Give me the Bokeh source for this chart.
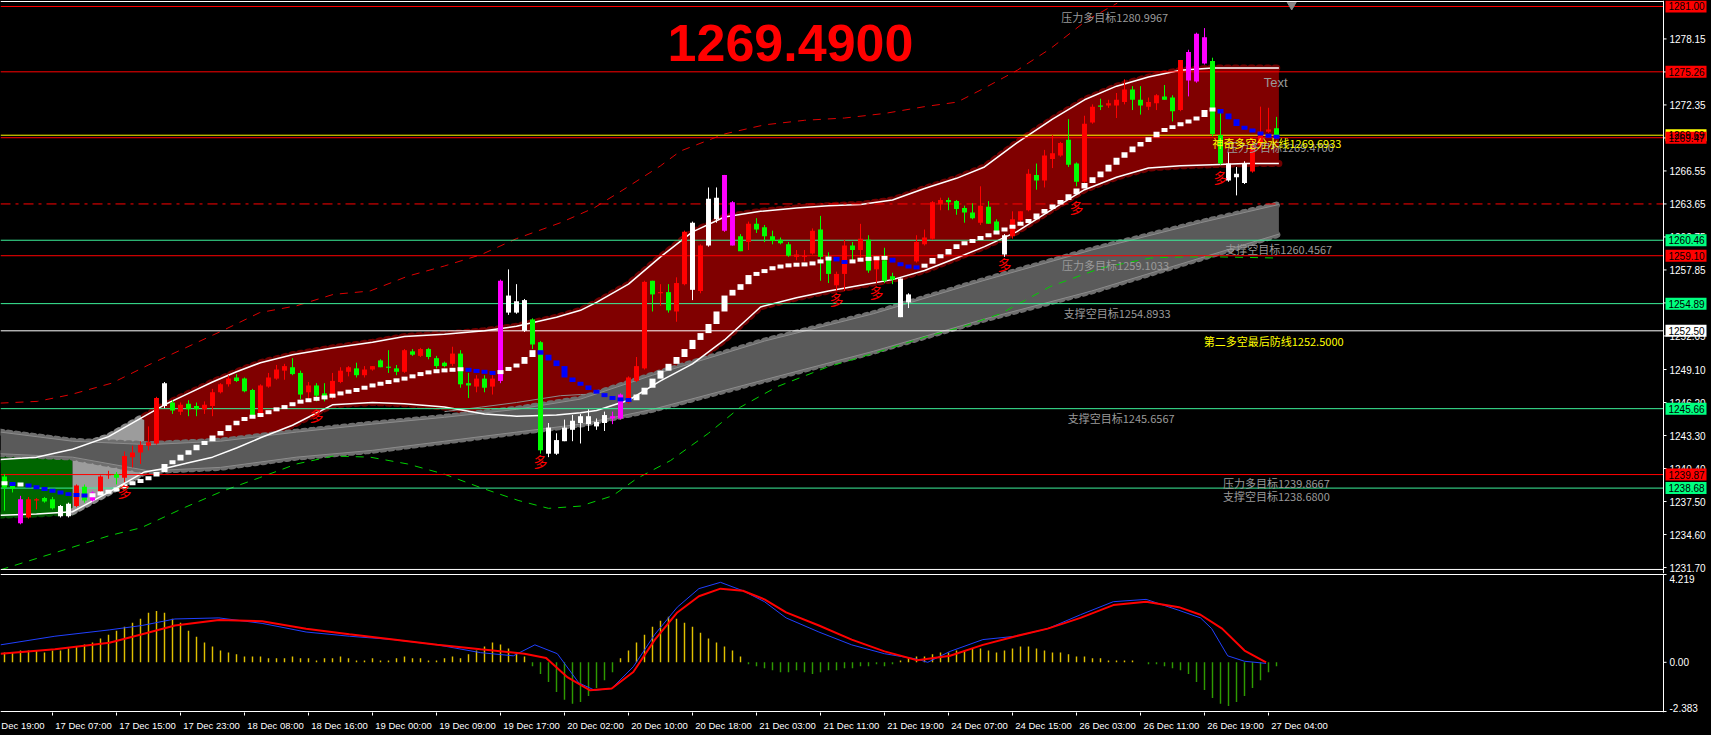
from bokeh.plotting import figure
from bokeh.models import Range1d, FixedTicker
from bokeh.layouts import column
from bokeh.embed import file_html
from bokeh.resources import INLINE
from bokeh.core.properties import value

# ---------------- data ----------------
FIRST_BAR = 2
opens = [1239.7, 1238.9, 1235.6, 1236.1, 1237.6, 1237.8, 1237.7, 1237.1, 1237.3, 1237.1,
         1238.8, 1237.6, 1238.4, 1239.8, 1239.9, 1239.6, 1241.4, 1241.8, 1242.4, 1242.6,
         1245.9, 1246.2, 1245.4, 1246.1, 1245.9, 1245.6, 1245.9, 1247.1, 1247.8, 1248.4,
         1248.3, 1247.3, 1245.0, 1247.6, 1248.3, 1249.0, 1249.3, 1248.8, 1247.1, 1247.7,
         1247.0, 1246.7, 1248.0, 1248.9, 1249.2, 1248.6, 1249.1, 1249.9, 1249.35, 1249.2,
         1248.9, 1250.7, 1250.3, 1250.9, 1250.1, 1249.7, 1249.6, 1250.5, 1247.9, 1247.6,
         1248.3, 1247.6, 1248.1, 1255.6, 1255.1, 1255.2, 1253.5, 1251.5, 1244.0, 1242.9,
         1242.8, 1243.8, 1244.4, 1244.3, 1244.5, 1244.4, 1244.8, 1244.8, 1246.2, 1248.1,
         1249.2, 1256.9, 1255.8, 1255.9, 1254.2, 1256.6, 1262.0, 1256.0, 1260.0, 1264.2,
         1261.3, 1263.8, 1260.8, 1260.3, 1261.9, 1261.6, 1260.8, 1260.5, 1260.1, 1259.0,
         1259.0, 1259.3, 1261.4, 1259.0, 1256.5, 1257.5, 1260.0, 1259.6, 1260.5, 1257.9,
         1258.7, 1257.3, 1257.1, 1255.0, 1258.6, 1260.1, 1260.6, 1263.6, 1264.0, 1263.9,
         1263.3, 1262.9, 1262.0, 1263.4, 1262.1, 1260.9, 1260.8, 1262.2, 1263.1, 1266.2,
         1265.7, 1267.6, 1267.9, 1269.3, 1267.2, 1265.6, 1270.8, 1272.3, 1272.3, 1272.3,
         1272.6, 1273.7, 1272.8, 1272.2, 1272.5, 1273.1, 1273.0, 1271.9, 1274.5, 1274.4,
         1278.3, 1276.2, 1269.7, 1267.2, 1266.3, 1267.2, 1266.5, 1268.8, 1270.0, 1270.3]
highs = [1239.9, 1239.1, 1238.0, 1237.9, 1237.8, 1237.9, 1237.9, 1237.2, 1237.4, 1239.0,
         1239.0, 1238.4, 1239.8, 1240.2, 1240.1, 1241.9, 1242.4, 1242.8, 1244.1, 1246.7,
         1248.0, 1246.4, 1246.2, 1246.4, 1246.2, 1246.3, 1247.4, 1247.9, 1248.6, 1248.7,
         1248.4, 1247.4, 1247.8, 1248.8, 1249.5, 1249.6, 1250.1, 1249.0, 1248.0, 1247.9,
         1247.9, 1248.8, 1249.3, 1249.4, 1249.7, 1249.4, 1249.4, 1250.0, 1250.8, 1249.5,
         1250.9, 1250.9, 1251.0, 1251.0, 1250.3, 1249.8, 1251.1, 1250.8, 1248.8, 1248.6,
         1248.6, 1248.6, 1257.0, 1257.9, 1256.6, 1255.3, 1253.6, 1251.6, 1244.4, 1243.5,
         1244.7, 1245.1, 1245.2, 1245.6, 1244.8, 1245.4, 1245.4, 1247.0, 1248.5, 1250.2,
         1256.9, 1256.9, 1256.6, 1256.6, 1257.2, 1261.3, 1262.1, 1260.1, 1265.1, 1265.1,
         1266.2, 1263.9, 1261.0, 1262.1, 1262.4, 1261.8, 1261.3, 1260.7, 1260.3, 1259.6,
         1259.6, 1261.5, 1262.6, 1259.4, 1257.7, 1260.5, 1260.3, 1261.9, 1260.9, 1259.1,
         1259.8, 1257.6, 1257.1, 1255.8, 1260.9, 1261.4, 1263.9, 1264.2, 1264.2, 1264.0,
         1263.5, 1263.7, 1265.2, 1263.9, 1262.3, 1261.0, 1263.0, 1263.0, 1266.7, 1267.2,
         1268.4, 1269.7, 1269.1, 1271.1, 1267.3, 1271.4, 1272.4, 1272.9, 1272.8, 1273.4,
         1274.6, 1274.0, 1274.0, 1273.0, 1273.3, 1274.1, 1273.2, 1276.3, 1277.2, 1278.7,
         1279.1, 1276.5, 1271.7, 1268.2, 1266.9, 1267.4, 1269.5, 1272.2, 1272.1, 1271.3]
lows = [1236.7, 1238.3, 1235.5, 1236.0, 1236.8, 1237.4, 1236.8, 1236.1, 1236.1, 1237.0,
        1237.4, 1237.5, 1238.3, 1239.5, 1239.0, 1239.2, 1240.5, 1240.8, 1242.0, 1242.5,
        1245.7, 1245.2, 1245.1, 1245.0, 1245.0, 1245.2, 1245.0, 1247.0, 1247.6, 1248.0,
        1247.1, 1245.0, 1244.9, 1247.5, 1248.2, 1248.2, 1248.6, 1246.5, 1246.5, 1246.3,
        1246.3, 1246.5, 1247.9, 1248.5, 1248.4, 1248.4, 1249.0, 1249.3, 1248.8, 1248.6,
        1248.8, 1250.3, 1250.2, 1250.0, 1249.2, 1249.3, 1249.4, 1247.5, 1246.6, 1247.1,
        1247.1, 1246.9, 1247.9, 1253.9, 1254.0, 1252.4, 1250.9, 1241.7, 1241.4, 1241.6,
        1242.8, 1242.8, 1242.6, 1243.7, 1243.8, 1243.7, 1244.3, 1244.7, 1246.1, 1248.0,
        1249.1, 1254.2, 1254.7, 1254.1, 1253.3, 1256.5, 1255.2, 1255.8, 1259.9, 1262.0,
        1261.2, 1260.0, 1259.5, 1259.6, 1261.1, 1260.3, 1260.1, 1260.1, 1259.0, 1258.7,
        1258.6, 1259.2, 1256.9, 1256.7, 1256.0, 1256.0, 1258.7, 1258.7, 1257.6, 1256.7,
        1256.7, 1256.6, 1253.7, 1254.5, 1258.5, 1260.0, 1260.5, 1263.1, 1263.1, 1262.7,
        1262.0, 1262.3, 1261.8, 1261.9, 1261.0, 1259.0, 1260.6, 1262.0, 1263.0, 1264.9,
        1265.1, 1266.8, 1267.8, 1266.9, 1265.2, 1265.5, 1270.7, 1271.9, 1272.1, 1271.2,
        1272.4, 1271.9, 1271.5, 1271.9, 1271.9, 1272.8, 1270.9, 1271.8, 1273.1, 1274.3,
        1275.9, 1269.6, 1267.1, 1265.6, 1264.4, 1265.4, 1266.4, 1268.6, 1269.9, 1269.4]
closes = [1238.7, 1238.6, 1237.7, 1237.7, 1237.7, 1237.5, 1236.9, 1236.2, 1236.2, 1238.9,
          1237.6, 1238.3, 1239.7, 1239.9, 1239.6, 1241.5, 1241.8, 1242.5, 1242.7, 1246.6,
          1247.9, 1245.5, 1246.0, 1245.6, 1245.6, 1246.0, 1247.1, 1247.8, 1248.3, 1248.1,
          1247.2, 1245.0, 1247.7, 1248.4, 1249.1, 1249.4, 1248.7, 1246.9, 1247.7, 1246.8,
          1246.5, 1248.1, 1249.0, 1249.3, 1248.6, 1249.1, 1249.4, 1249.3, 1249.25, 1248.9,
          1250.8, 1250.4, 1250.9, 1250.2, 1249.4, 1249.4, 1250.5, 1247.8, 1247.7, 1248.3,
          1247.5, 1248.3, 1256.9, 1254.1, 1254.1, 1252.5, 1251.3, 1242.0, 1241.7, 1241.7,
          1244.0, 1244.6, 1245.0, 1245.0, 1244.1, 1245.1, 1245.0, 1246.9, 1248.4, 1249.4,
          1256.8, 1255.7, 1255.9, 1254.3, 1256.7, 1261.2, 1256.1, 1260.0, 1264.1, 1262.3,
          1266.2, 1260.0, 1259.5, 1261.9, 1261.4, 1260.8, 1260.4, 1260.2, 1259.1, 1259.2,
          1259.1, 1261.3, 1259.0, 1257.5, 1257.5, 1260.0, 1259.6, 1260.6, 1257.8, 1258.8,
          1256.9, 1257.0, 1253.7, 1255.7, 1260.3, 1260.7, 1263.8, 1264.0, 1263.8, 1263.2,
          1262.9, 1262.4, 1263.5, 1261.9, 1261.0, 1259.2, 1262.3, 1263.0, 1266.3, 1265.7,
          1267.9, 1268.1, 1269.0, 1267.1, 1265.6, 1270.7, 1272.2, 1272.2, 1272.5, 1272.8,
          1273.7, 1272.8, 1272.3, 1272.6, 1273.2, 1272.8, 1271.8, 1276.3, 1277.0, 1278.6,
          1276.0, 1269.8, 1267.2, 1265.7, 1266.0, 1265.5, 1268.7, 1270.0, 1270.2, 1269.5]
white_bars = [9, 10, 22, 65, 66, 67, 70, 71, 72, 73, 74, 75, 76, 77, 88, 90, 91, 114, 115, 127, 155, 156, 157]
magenta_bars = [4, 13, 64, 78, 79, 92, 93, 150, 151, 152]

ma_trend = [1239.1, 1239.0, 1239.0, 1238.8, 1238.7, 1238.5, 1238.4, 1238.2, 1238.1, 1238.05, 1238.0,
            1238.1, 1238.3, 1238.4, 1238.7, 1239.0, 1239.2, 1239.4, 1239.7, 1240.1, 1240.8,
            1241.1, 1241.6, 1242.0, 1242.5, 1242.8, 1243.3, 1243.7, 1244.2, 1244.6, 1244.9,
            1245.0, 1245.2, 1245.5, 1245.7, 1245.9, 1246.2, 1246.35, 1246.45, 1246.6, 1246.7,
            1246.9, 1247.1, 1247.2, 1247.4, 1247.6, 1247.8, 1247.9, 1248.1, 1248.2, 1248.4,
            1248.6, 1248.8, 1248.9, 1249.0, 1249.05, 1249.1, 1249.15, 1249.0, 1248.95, 1248.85,
            1248.75, 1249.0, 1249.3, 1249.6, 1250.2, 1250.8, 1250.4, 1249.9, 1249.4, 1248.4,
            1248.0, 1247.7, 1247.3, 1247.0, 1246.7, 1246.5, 1246.45, 1246.4, 1246.9, 1247.5,
            1248.3, 1249.0, 1249.6, 1250.2, 1250.9, 1251.7, 1252.3, 1253.1, 1254.2, 1255.6,
            1256.1, 1256.6, 1257.4, 1257.6, 1257.9, 1258.1, 1258.2, 1258.3, 1258.32, 1258.35,
            1258.5, 1258.7, 1259.0, 1258.6, 1258.5, 1258.7, 1258.8, 1258.85, 1258.9, 1258.92,
            1258.5, 1258.2, 1258.1, 1258.05, 1258.4, 1258.9, 1259.2, 1259.7, 1260.1, 1260.3,
            1260.5, 1260.8, 1261.0, 1261.3, 1261.5, 1261.8, 1262.0, 1262.3, 1262.8, 1263.2,
            1263.6, 1264.0, 1264.5, 1265.0, 1265.5, 1266.0, 1266.5, 1267.1, 1267.7, 1268.2,
            1268.7, 1269.1, 1269.5, 1270.0, 1270.3, 1270.5, 1270.8, 1271.0, 1271.3, 1271.9,
            1272.0, 1271.6, 1271.1, 1270.5, 1270.2, 1270.0, 1269.7, 1269.6, 1269.5]

signal_bars = [17, 41, 69, 106, 111, 127, 136, 154]
signal_prices = [1238.4, 1245.1, 1241.1, 1255.3, 1255.9, 1258.4, 1263.4, 1266.0]

band_x = [1.5, 6, 10.5, 15, 19.5, 22, 25, 28, 31, 34, 38, 43, 48, 52, 57, 62, 66, 71, 74, 76,
          80, 84, 88, 92, 96.5, 101, 105, 109, 113, 117, 121, 124.5, 128.5, 133, 137, 141, 145,
          149, 153, 157, 161.3]
band_upper = [1241.2, 1241.4, 1242.1, 1243.2, 1245.0, 1246.0, 1247.0, 1248.0, 1248.9, 1249.7,
              1250.4, 1251.0, 1251.5, 1252.0, 1252.2, 1252.5, 1252.9, 1253.7, 1254.3, 1255.0,
              1256.6, 1259.0, 1261.2, 1262.5, 1263.0, 1263.3, 1263.5, 1263.6, 1264.0, 1265.0,
              1265.9, 1266.9, 1269.0, 1271.1, 1272.8, 1274.0, 1274.8, 1275.4, 1275.6, 1275.6,
              1275.6]
band_lower = [1236.3, 1236.4, 1236.6, 1238.3, 1240.1, 1240.4, 1240.9, 1241.4, 1242.2, 1243.1,
              1244.2, 1246.0, 1246.2, 1246.1, 1245.8, 1245.2, 1245.0, 1245.1, 1245.3, 1245.5,
              1246.4, 1248.1, 1249.6, 1251.7, 1254.6, 1255.4, 1256.0, 1256.5, 1257.0, 1257.8,
              1258.9, 1259.9, 1261.2, 1263.2, 1264.9, 1266.0, 1266.8, 1267.0, 1267.1, 1267.2,
              1267.2]
band_breaks = [1.5, 10.5, 19.5, 161.3]

grey_x = [1.5, 10.5, 20, 29, 38.5, 48, 57, 66, 74, 83, 97, 110.6, 124.3, 137.9, 151.5, 161.3]
grey_upper = [1243.6, 1242.8, 1242.5, 1242.8, 1243.6, 1244.3, 1244.9, 1245.6, 1246.5, 1248.6,
              1251.6, 1254.0, 1256.9, 1259.6, 1262.0, 1263.6]
grey_lower = [1241.7, 1241.4, 1240.2, 1240.5, 1241.4, 1242.0, 1242.8, 1243.6, 1244.3, 1245.6,
              1248.2, 1250.7, 1253.5, 1256.0, 1258.9, 1261.0]
grey_mid_x = [57, 61.6, 66, 71.5, 74, 79, 82]
grey_mid = [1245.4, 1245.8, 1246.2, 1246.8, 1246.9, 1247.0, 1247.6]

env_hi_x = [1.5, 6.1, 10.3, 15.4, 20.0, 24.6, 29.2, 33.9, 38.5, 43.1, 47.7, 52.4, 57.0, 61.6,
            66, 71.5, 75.7, 79.8, 84.0, 86.5, 92, 97, 102, 107, 112, 117, 121.1, 124.4, 128.6,
            132.75, 137.3, 141.1]
env_hi = [1246.15, 1246.3, 1246.9, 1247.9, 1249.5, 1251.0, 1252.5, 1254.1, 1254.7, 1255.7,
          1256.0, 1257.3, 1258.2, 1259.2, 1260.6, 1262.0, 1263.3, 1265.1, 1267.0, 1268.3,
          1269.8, 1270.6, 1271.0, 1271.2, 1271.6, 1272.2, 1272.6, 1273.8, 1275.4, 1277.3,
          1279.8, 1281.3]
env_lo_x = [1.5, 8.3, 15.1, 19.1, 24.6, 29.2, 33.9, 38.5, 43.1, 47.7, 52.4, 57.0, 61.6, 66.2,
            70, 74, 78, 81, 85.25, 90, 94, 98.6, 104.8, 111, 117.3, 121.5, 126.5, 132.75, 139,
            145.25, 149.4, 153.6, 161]
env_lo = [1231.5, 1233.0, 1234.5, 1235.2, 1237.0, 1238.4, 1239.6, 1240.8, 1241.5, 1241.4,
          1240.8, 1239.9, 1238.7, 1237.6, 1236.9, 1237.1, 1238.0, 1239.5, 1241.1, 1243.5,
          1245.8, 1247.6, 1249.3, 1250.6, 1252.0, 1252.8, 1254.0, 1256.4, 1258.0, 1258.9,
          1259.0, 1259.0, 1258.9]

resist_levels = [1281.00, 1275.26, 1269.47, 1259.10, 1239.87]
support_levels = [1260.46, 1254.89, 1245.66, 1238.68]
pivot_level = 1269.69
final_level = 1252.50
mid_level = 1263.65

price_ticks = [1231.70, 1234.60, 1237.50, 1240.40, 1243.30, 1246.20, 1249.10, 1252.05, 1254.95,
               1257.85, 1260.75, 1263.65, 1266.55, 1269.45, 1272.35, 1275.25, 1278.15]
time_labels = ["16 Dec 19:00", "17 Dec 07:00", "17 Dec 15:00", "17 Dec 23:00", "18 Dec 08:00",
               "18 Dec 16:00", "19 Dec 00:00", "19 Dec 09:00", "19 Dec 17:00", "20 Dec 02:00",
               "20 Dec 10:00", "20 Dec 18:00", "21 Dec 03:00", "21 Dec 11:00", "21 Dec 19:00",
               "24 Dec 07:00", "24 Dec 15:00", "26 Dec 03:00", "26 Dec 11:00", "26 Dec 19:00",
               "27 Dec 04:00"]
BARS_PER_LABEL = 8

macd_x = [1.5, 8.3, 15.1, 19.2, 23.3, 28.8, 34.2, 39.7, 45.1, 50.6, 56.1, 61.5, 65.6, 68.3, 71.1,
          73.8, 75.8, 77.9, 80.6, 83.3, 86.1, 88.8, 91.5, 94.3, 97, 99.7, 103.8, 107.9, 112,
          116.1, 117.4, 120.2, 124.3, 128.4, 132.4, 136.5, 140.6, 144.7, 148.8, 151.5, 152.9,
          154.9, 157, 159.7]
macd_main = [0.83, 1.24, 1.54, 1.75, 2.06, 2.11, 1.85, 1.44, 1.24, 1.08, 0.83, 0.46, 0.31, 0.83,
             0.41, -0.98, -1.33, -1.24, -0.21, 1.33, 2.62, 3.50, 3.80, 3.40, 2.88, 2.11, 1.44,
             0.83, 0.41, 0.15, 0.0, 0.52, 1.08, 1.24, 1.60, 2.26, 2.88, 2.99, 2.47, 2.11, 1.60,
             0.31, 0.05, -0.05]
sig_x = [1.5, 8.3, 15.1, 19.2, 23.3, 28.8, 34.2, 39.7, 45.1, 50.6, 56.1, 61.5, 67, 69.7, 72.4,
         75.2, 77.9, 80.6, 83.3, 86.1, 88.8, 91.5, 94.3, 97, 99.7, 103.8, 107.9, 112, 116.1,
         120.2, 124.3, 128.4, 132.4, 136.5, 140.6, 144.7, 148.8, 151.5, 154.2, 157, 159.7]
macd_signal = [0.41, 0.62, 0.93, 1.33, 1.75, 2.01, 1.95, 1.60, 1.33, 1.08, 0.83, 0.62, 0.41, 0.21,
               -0.72, -1.33, -1.24, -0.46, 1.08, 2.37, 3.14, 3.50, 3.40, 2.99, 2.37, 1.75, 1.08,
               0.52, 0.10, 0.31, 0.83, 1.24, 1.60, 2.11, 2.72, 2.88, 2.62, 2.26, 1.60, 0.56, 0.0]
osma = [0.47, 0.47, 0.56, 0.56, 0.56, 0.47, 0.56, 0.56, 0.66, 0.75,
        0.85, 0.94, 1.13, 1.31, 1.50, 1.69, 1.88, 2.07, 2.35, 2.44,
        2.35, 2.07, 1.88, 1.50, 1.22, 0.94, 0.75, 0.56, 0.47, 0.38,
        0.28, 0.28, 0.28, 0.19, 0.19, 0.19, 0.28, 0.19, 0.19, 0.09,
        0.19, 0.19, 0.28, 0.19, 0.09, 0.09, 0.19, 0.09, 0.09, 0.19,
        0.28, 0.19, 0.19, 0.09, 0.09, 0.19, 0.28, 0.19, 0.38, 0.56,
        0.75, 0.94, 0.85, 0.66, 0.47, 0.28, -0.19, -0.56, -0.94, -1.41,
        -1.78, -1.97, -1.88, -1.60, -1.22, -0.85, -0.47, 0.19, 0.56, 0.94,
        1.31, 1.69, 1.97, 2.16, 2.07, 1.88, 1.69, 1.41, 1.13, 0.94,
        0.75, 0.56, 0.28, -0.09, -0.19, -0.28, -0.38, -0.47, -0.47, -0.38,
        -0.47, -0.56, -0.47, -0.38, -0.38, -0.28, -0.28, -0.19, -0.19, -0.09,
        -0.19, -0.09, 0.09, 0.19, 0.28, 0.28, 0.38, 0.47, 0.47, 0.56,
        0.56, 0.66, 0.66, 0.56, 0.47, 0.56, 0.66, 0.75, 0.75, 0.66,
        0.56, 0.47, 0.47, 0.38, 0.28, 0.28, 0.19, 0.19, 0.09, 0.09,
        0.09, 0.09, 0.0, -0.09, -0.09, -0.19, -0.28, -0.38, -0.56, -0.94,
        -1.31, -1.69, -1.97, -2.07, -1.88, -1.60, -1.22, -0.85, -0.47, -0.19]
macd_max = 4.219
macd_min = -2.383

notes_grey = ["压力多目标1280.9967", "压力多目标1269.4700", "支撑空目标1260.4567", "压力多目标1259.1033",
              "支撑空目标1254.8933", "支撑空目标1245.6567", "压力多目标1239.8667", "支撑空目标1238.6800"]
notes_grey_x = [134.1, 154.8, 154.6, 134.2, 134.4, 134.9, 154.3, 154.3]
notes_grey_y = [1280.82, 1269.40, 1260.40, 1259.00, 1254.73, 1245.50, 1239.79, 1238.65]
notes_yellow = ["神奇多空分水线1269.6933", "第二多空最后防线1252.5000"]
notes_yellow_x = [153.0, 151.9]
notes_yellow_y = [1269.70, 1252.35]
last_price_text = "1269.4900"

# ---------------- geometry ----------------
W = 1711
AXIS_PX = 1663          # right price-scale line
BAR_PX = 8
PX_PER_PRICE = 11.38
MAIN_H = 573
x_start = 1.5
x_end = x_start + W / BAR_PX
AX = x_start + AXIS_PX / BAR_PX
y_top = 1281.527
y_bot = y_top - MAIN_H / PX_PER_PRICE

bars = list(range(FIRST_BAR, FIRST_BAR + len(opens)))


def scale_line(fig, lo, hi):
    fig.segment(x0=[AX], y0=[lo], x1=[AX], y1=[hi], line_color="white", line_width=1)


def scale_labels(fig, ticks, texts, baseline):
    fig.segment(x0=[AX] * len(ticks), y0=ticks, x1=[AX + 3 / BAR_PX] * len(ticks), y1=ticks,
                line_color="white", line_width=1)
    fig.text(x=[AX + 6 / BAR_PX] * len(ticks), y=ticks, text=texts, text_color="white",
             text_font=value("Liberation Sans"), text_font_size="10px", text_align="left",
             text_baseline=baseline)


p = figure(width=W, height=MAIN_H, x_range=Range1d(x_start, x_end),
           y_range=Range1d(y_bot, y_top), output_backend="svg", toolbar_location=None,
           x_axis_location=None, y_axis_location=None,
           min_border_left=0, min_border_right=0, min_border_top=0, min_border_bottom=0,
           background_fill_color="black", border_fill_color="black", outline_line_color=None)
p.grid.visible = False

# ----- main channel (trend band) -----
seg_fill = ["#006600", "#9c9c9c", "#800000"]
seg_bump = ["#005200", "#8a8a8a", "#700000"]
for k in range(3):
    lo_b, hi_b = band_breaks[k], band_breaks[k + 1]
    ids = [j for j, xv in enumerate(band_x) if lo_b <= xv <= hi_b]
    xs = [band_x[j] for j in ids]
    ups = [band_upper[j] for j in ids]
    los = [band_lower[j] for j in ids]
    p.line(xs, ups, line_color=seg_bump[k], line_width=7, line_dash="2 6", line_cap="round")
    p.line(xs, los, line_color=seg_bump[k], line_width=7, line_dash="2 6", line_cap="round")
    p.varea(x=xs, y1=los, y2=ups, fill_color=seg_fill[k])
p.line(grey_mid_x, grey_mid, line_color="#8c8c8c", line_width=1)

# ----- grey channel -----
p.line(grey_x, grey_upper, line_color="#6e6e6e", line_width=7, line_dash="2 6", line_cap="round")
p.line(grey_x, grey_lower, line_color="#6e6e6e", line_width=7, line_dash="2 6", line_cap="round")
p.varea(x=grey_x, y1=grey_lower, y2=grey_upper, fill_color="#5a5a5a")
p.line(grey_x, grey_upper, line_color="#8c8c8c", line_width=1)
p.line(grey_x, grey_lower, line_color="#8c8c8c", line_width=1)

# white edges of trend band
p.line(band_x, band_upper, line_color="white", line_width=1.5)
p.line(band_x, band_lower, line_color="white", line_width=1.5)

# envelopes
p.line(env_hi_x, env_hi, line_color="#dd0000", line_width=1, line_dash="8 7")
p.line(env_lo_x, env_lo, line_color="#00d000", line_width=1, line_dash="8 7")


# horizontal levels (stop at the price scale)
def hline(level, color, dash="solid"):
    p.segment(x0=[x_start], y0=[level], x1=[AX], y1=[level], line_color=color, line_width=1,
              line_dash=dash)


for lv in resist_levels:
    hline(lv, "#ff0000")
for lv in support_levels:
    hline(lv, "#3cf09a")
hline(pivot_level, "#ffff00")
hline(final_level, "#ffffff")
hline(mid_level, "#ff0000", "10 5 3 5")

# ----- candles -----
cols = []
for k, b in enumerate(bars):
    if b in white_bars:
        cols.append("#ffffff")
    elif b in magenta_bars:
        cols.append("#ff00ff")
    elif closes[k] >= opens[k]:
        cols.append("#ff0000")
    else:
        cols.append("#00ff00")
btop = [max(o, c) for o, c in zip(opens, closes)]
bbot = [min(o, c) for o, c in zip(opens, closes)]
btop = [t if t - b >= 0.1 else b + 0.1 for t, b in zip(btop, bbot)]
p.segment(x0=bars, y0=lows, x1=bars, y1=highs, line_color=cols, line_width=1)
p.vbar(x=bars, top=btop, bottom=bbot, width=0.62, fill_color=cols, line_color=None)

# ----- trend staircase -----
prev = [ma_trend[0]] + ma_trend[:-1]
st_top, st_bot, st_col = [], [], []
for a, c in zip(prev, ma_trend):
    lo, hi = min(a, c), max(a, c)
    if hi - lo < 0.35:
        mid = (hi + lo) / 2
        lo, hi = mid - 0.175, mid + 0.175
    st_top.append(hi)
    st_bot.append(lo)
    st_col.append("#ffffff" if c >= a else "#0000ff")
p.vbar(x=bars, top=st_top, bottom=st_bot, width=0.75, fill_color=st_col, line_color=None)

# signals
p.text(x=signal_bars, y=signal_prices, text=["多"] * len(signal_bars), text_color="#ff0000",
       text_font=value("Noto Sans CJK SC"), text_font_size="14px", text_align="center",
       text_baseline="middle")

# notes
p.text(x=notes_grey_x, y=notes_grey_y, text=notes_grey, text_color="#9a9a9a",
       text_font=value("Noto Sans CJK SC"), text_font_size="11px", text_align="left",
       text_baseline="top")
p.text(x=notes_yellow_x, y=notes_yellow_y, text=notes_yellow, text_color="#ffff00",
       text_font=value("Noto Sans CJK SC"), text_font_size="11px", text_align="left",
       text_baseline="top")
p.text(x=[159.4], y=[1275.0], text=["Text"], text_color="#9a9a9a",
       text_font=value("Liberation Sans"), text_font_size="13px", text_align="left",
       text_baseline="top")
p.text(x=[100.25], y=[1277.8], text=[last_price_text], text_color="#ff0000",
       text_font=value("Liberation Sans"), text_font_style="bold", text_font_size="52px",
       text_align="center", text_baseline="middle")
p.scatter(x=[162.9], y=[1281.15], marker="inverted_triangle", size=9, color="#8a8a8a")

# frame lines
p.segment(x0=[x_start, x_start], y0=[y_top - 1 / PX_PER_PRICE, 1231.53],
          x1=[AX, AX], y1=[y_top - 1 / PX_PER_PRICE, 1231.53], line_color="white", line_width=1)

# price scale with level boxes
scale_line(p, y_bot, y_top)
scale_labels(p, price_ticks, [f"{t:.2f}" for t in price_ticks], "middle")
box_levels = [lv for lv in resist_levels if lv != 1269.47] + [pivot_level, 1269.47] \
    + support_levels + [final_level]
box_colors = ["#ff0000"] * 4 + ["#ffff00", "#ff0000"] + ["#00ff80"] * 4 + ["#ffffff"]
box_cx = AX + (2 + 20.5) / BAR_PX
p.rect(x=[box_cx] * len(box_levels), y=box_levels, width=41, height=12, width_units="screen",
       height_units="screen", fill_color=box_colors, line_color=None)
p.text(x=[AX + 5 / BAR_PX] * len(box_levels), y=box_levels, text=[f"{lv:.2f}" for lv in box_levels],
       text_color="black", text_font=value("Liberation Sans"), text_font_size="10px",
       text_align="left", text_baseline="middle")

# ---------------- MACD panel ----------------
MACD_H = 735 - MAIN_H
XAX_H = 23
m_px = (MACD_H - XAX_H) / (macd_max - macd_min)
m_top = macd_max
m_bot = macd_min
m = figure(width=W, height=MACD_H, x_range=p.x_range, y_range=Range1d(m_bot, m_top),
           output_backend="svg", toolbar_location=None, y_axis_location=None,
           x_axis_location="below", min_border_left=0, min_border_right=0,
           min_border_top=0, min_border_bottom=XAX_H, background_fill_color="black",
           border_fill_color="black", outline_line_color=None)
m.grid.visible = False
hist_col = ["#e0c000" if v >= 0 else "#2e9a00" for v in osma]
m.vbar(x=bars, top=[max(v, 0) for v in osma], bottom=[min(v, 0) for v in osma], width=0.18,
       fill_color=hist_col, line_color=None)
m.line(macd_x, macd_main, line_color="#2040ff", line_width=1)
m.line(sig_x, macd_signal, line_color="#ff0000", line_width=2)
m.segment(x0=[x_start, x_start], y0=[m_top - 1 / m_px, m_bot + 1 / m_px],
          x1=[AX, AX], y1=[m_top - 1 / m_px, m_bot + 1 / m_px], line_color="white", line_width=1)
scale_line(m, m_bot, m_top)
scale_labels(m, [macd_max - 1 / m_px], [f"{macd_max:.3f}"], "top")
scale_labels(m, [0.0], ["0.00"], "middle")
scale_labels(m, [macd_min + 1 / m_px], [f"{macd_min:.3f}"], "bottom")

tick_pos = [BARS_PER_LABEL * k for k in range(len(time_labels))]
label_pos = [4.3125] + [BARS_PER_LABEL * k + 3.875 for k in range(1, len(time_labels))]
shown = [time_labels[0].split(" ", 1)[1]] + time_labels[1:]
xax = m.xaxis[0]
xax.ticker = FixedTicker(ticks=label_pos, minor_ticks=tick_pos)
xax.major_label_overrides = {lp: t for lp, t in zip(label_pos, shown)}
xax.major_tick_line_color = None
xax.major_tick_out = 0
xax.major_tick_in = 0
xax.minor_tick_line_color = "white"
xax.minor_tick_out = 3
xax.minor_tick_in = 0
xax.axis_line_color = None
xax.major_label_text_color = "white"
xax.major_label_text_font = "Liberation Sans"
xax.major_label_text_font_size = "9.5px"
xax.major_label_standoff = 4

layout = column(p, m, spacing=0)
html = file_html(layout, INLINE)
html = html.replace("<head>", "<head><style>body{background:#000000;margin:0;}</style>", 1)
open("out.html", "w").write(html)
